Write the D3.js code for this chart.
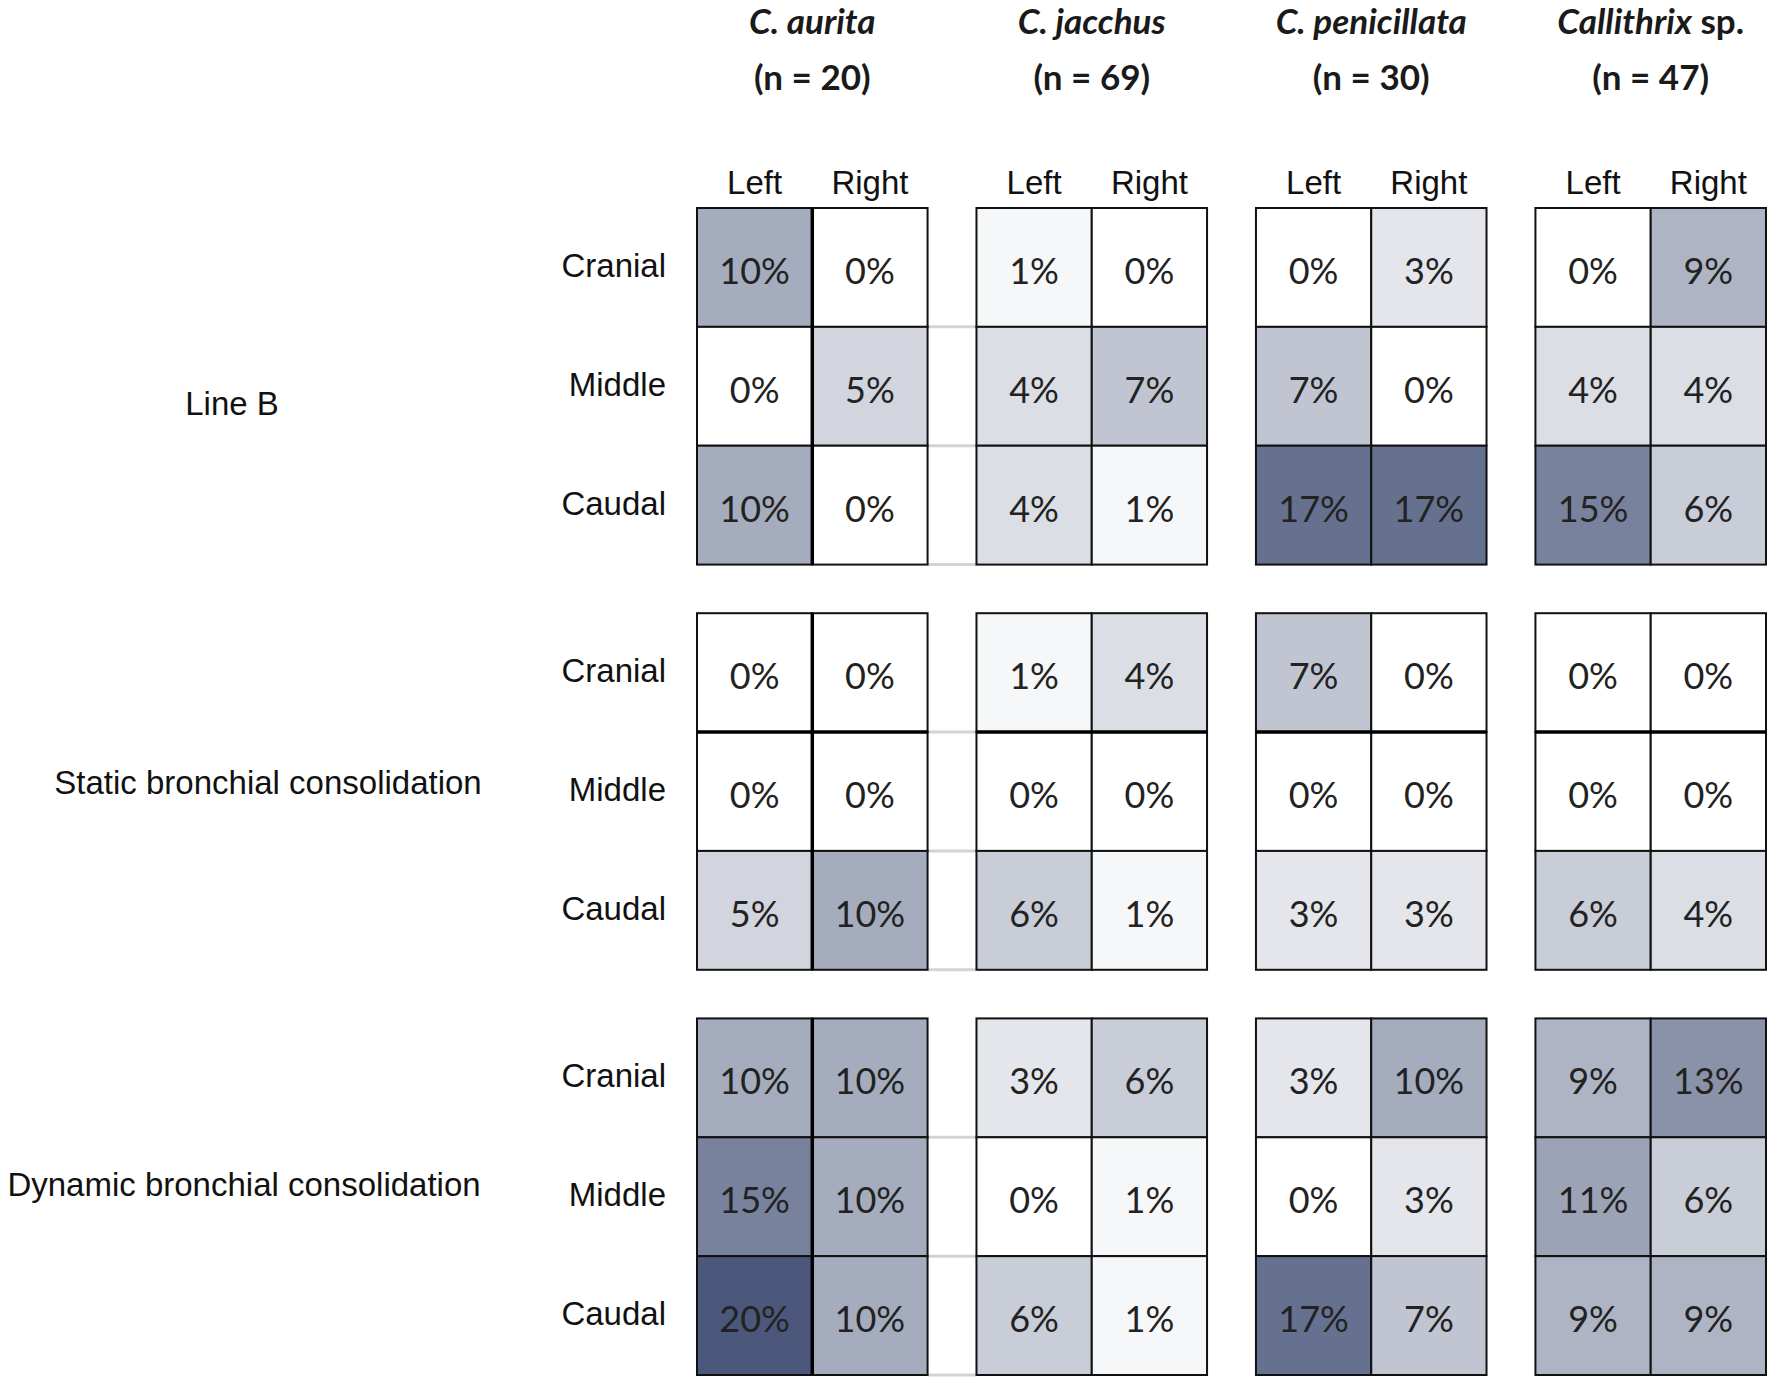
<!DOCTYPE html>
<html>
<head>
<meta charset="utf-8">
<script src="https://cdn.jsdelivr.net/npm/d3@7"></script>
<style>
  html, body { margin: 0; padding: 0; background: #fff; }
  svg { display: block; }
</style>
</head>
<body>
<div id="chart"></div>
<script>
// data
var species = ['C. aurita', 'C. jacchus', 'C. penicillata', 'Callithrix sp.']
var sampleSizes = [20, 69, 30, 47]
var sides = ['Left', 'Right']
var regions = ['Cranial', 'Middle', 'Caudal']
var findings = ['Line B', 'Static bronchial consolidation', 'Dynamic bronchial consolidation']

// percent per species, rows = regions, cols = left/right
var lineB = [
    [[10, 0], [0, 5], [10, 0]],
    [[1, 0], [4, 7], [4, 1]],
    [[0, 3], [7, 0], [17, 17]],
    [[0, 9], [4, 4], [15, 6]]
]
var staticCons = [
    [[0, 0], [0, 0], [5, 10]],
    [[1, 4], [0, 0], [6, 1]],
    [[7, 0], [0, 0], [3, 3]],
    [[0, 0], [0, 0], [6, 4]]
]
var dynamicCons = [
    [[10, 10], [15, 10], [20, 10]],
    [[3, 6], [0, 1], [6, 1]],
    [[3, 10], [0, 3], [17, 7]],
    [[9, 13], [11, 6], [9, 9]]
]
var valuesByFinding = [lineB, staticCons, dynamicCons]

var width = 1771
var height = 1379

// where the finding labels sit on the left
var findingLabelPos = [[232, 403], [268, 782], [244, 1184]]

var svg = d3.select('#chart').append('svg')
    .attr('width', width)
    .attr('height', height)

var xSpecies = d3.scaleBand().domain(species).range([697, 1766]).paddingInner(0.175)
var xSide = d3.scaleBand().domain(sides).range([0, xSpecies.bandwidth()])
var yFinding = d3.scaleBand().domain(findings).range([208, 1375]).paddingInner(0.12)
var yRegion = d3.scaleBand().domain(regions).range([0, yFinding.bandwidth()])

var color = d3.scaleLinear().domain([0, 20]).range(['#ffffff', '#4b587b'])

// flatten to cells
var cells = []
findings.forEach(function (f, fi) {
    species.forEach(function (s, si) {
        regions.forEach(function (r, ri) {
            sides.forEach(function (side, ci) {
                cells.push({ finding: f, species: s, region: r, side: side, value: valuesByFinding[fi][si][ri][ci] })
            })
        })
    })
})

// headers
var headGroup = svg.append('g').attr('class', 'headers')
species.forEach(function (s, i) {
    var cx = xSpecies(s) + xSpecies.bandwidth() / 2
    var t = headGroup.append('text')
        .attr('x', cx)
        .attr('y', 34)
        .attr('text-anchor', 'middle')
        .attr('font-family', 'Lato, "Open Sans", sans-serif')
        .attr('font-weight', 'bold')
        .attr('font-size', 35)
        .attr('fill', '#1a1a1a')
    var parts = s.split(' ')
    if (parts[1] === 'sp.') {
        t.append('tspan').attr('font-style', 'italic').text(parts[0])
        t.append('tspan').text('  sp.')
    } else {
        t.attr('font-style', 'italic').text(s)
    }
    headGroup.append('text')
        .attr('x', cx)
        .attr('y', 90)
        .attr('text-anchor', 'middle')
        .attr('font-family', 'Lato, "Open Sans", sans-serif')
        .attr('font-weight', 'bold')
        .attr('font-size', 35)
        .attr('fill', '#1a1a1a')
        .text('(n = ' + sampleSizes[i] + ')')

    sides.forEach(function (side) {
        headGroup.append('text')
            .attr('x', xSpecies(s) + xSide(side) + xSide.bandwidth() / 2)
            .attr('y', 182)
            .attr('dy', '0.35em')
            .attr('text-anchor', 'middle')
            .attr('font-family', '"Liberation Sans", Arial, sans-serif')
            .attr('font-size', 33)
            .attr('fill', '#111')
            .text(side)
    })
})

// finding + region labels
var labelGroup = svg.append('g').attr('class', 'labels')
findings.forEach(function (f, fi) {
    labelGroup.append('text')
        .attr('x', findingLabelPos[fi][0])
        .attr('y', findingLabelPos[fi][1])
        .attr('dy', '0.35em')
        .attr('text-anchor', 'middle')
        .attr('font-family', '"Liberation Sans", Arial, sans-serif')
        .attr('font-size', 33)
        .attr('fill', '#111')
        .text(f)
    regions.forEach(function (r) {
        labelGroup.append('text')
            .attr('x', 666)
            .attr('y', yFinding(f) + yRegion(r) + yRegion.bandwidth() / 2 - 2)
            .attr('dy', '0.35em')
            .attr('text-anchor', 'end')
            .attr('font-family', '"Liberation Sans", Arial, sans-serif')
            .attr('font-size', 33)
            .attr('fill', '#111')
            .text(r)
    })
})

// faint connectors between the first two grids
var connGroup = svg.append('g').attr('class', 'connectors')
findings.forEach(function (f) {
    ['Middle', 'Caudal'].forEach(function (r) {
        connGroup.append('line')
            .attr('x1', xSpecies(species[0]) + xSpecies.bandwidth())
            .attr('x2', xSpecies(species[1]))
            .attr('y1', yFinding(f) + yRegion(r))
            .attr('y2', yFinding(f) + yRegion(r))
            .attr('stroke', '#d4d4d4')
            .attr('stroke-width', 3)
    })
    connGroup.append('line')
        .attr('x1', xSpecies(species[0]) + xSpecies.bandwidth())
        .attr('x2', xSpecies(species[1]))
        .attr('y1', yFinding(f) + yFinding.bandwidth())
        .attr('y2', yFinding(f) + yFinding.bandwidth())
        .attr('stroke', '#d4d4d4')
        .attr('stroke-width', 3)
})

// cells
var cellGroup = svg.append('g').attr('class', 'cells')
var cellEls = cellGroup.selectAll('g')
    .data(cells)
    .enter().append('g')
    .attr('transform', function (d) {
        return 'translate(' + (xSpecies(d.species) + xSide(d.side)) + ',' + (yFinding(d.finding) + yRegion(d.region)) + ')'
    })

cellEls.append('rect')
    .attr('width', xSide.bandwidth())
    .attr('height', yRegion.bandwidth())
    .attr('fill', function (d) { return color(d.value) })
    .attr('stroke', '#111')
    .attr('stroke-width', 2)

cellEls.append('text')
    .attr('x', xSide.bandwidth() / 2)
    .attr('y', yRegion.bandwidth() / 2 + 4)
    .attr('dy', '0.35em')
    .attr('text-anchor', 'middle')
    .attr('font-family', 'Lato, "Open Sans", sans-serif')
    .attr('font-size', 36)
    .attr('fill', '#222')
    .text(function (d) { return d.value + '%' })

// heavier rules seen in the figure
var heavy = svg.append('g').attr('class', 'heavy')
findings.forEach(function (f) {
    heavy.append('line')
        .attr('x1', xSpecies(species[0]) + xSide('Right'))
        .attr('x2', xSpecies(species[0]) + xSide('Right'))
        .attr('y1', yFinding(f))
        .attr('y2', yFinding(f) + yFinding.bandwidth())
        .attr('stroke', '#000')
        .attr('stroke-width', 3.5)
})
species.forEach(function (s) {
    var y = yFinding(findings[1]) + yRegion('Middle')
    heavy.append('line')
        .attr('x1', xSpecies(s))
        .attr('x2', xSpecies(s) + xSpecies.bandwidth())
        .attr('y1', y)
        .attr('y2', y)
        .attr('stroke', '#000')
        .attr('stroke-width', 3.5)
})
</script>
</body>
</html>
